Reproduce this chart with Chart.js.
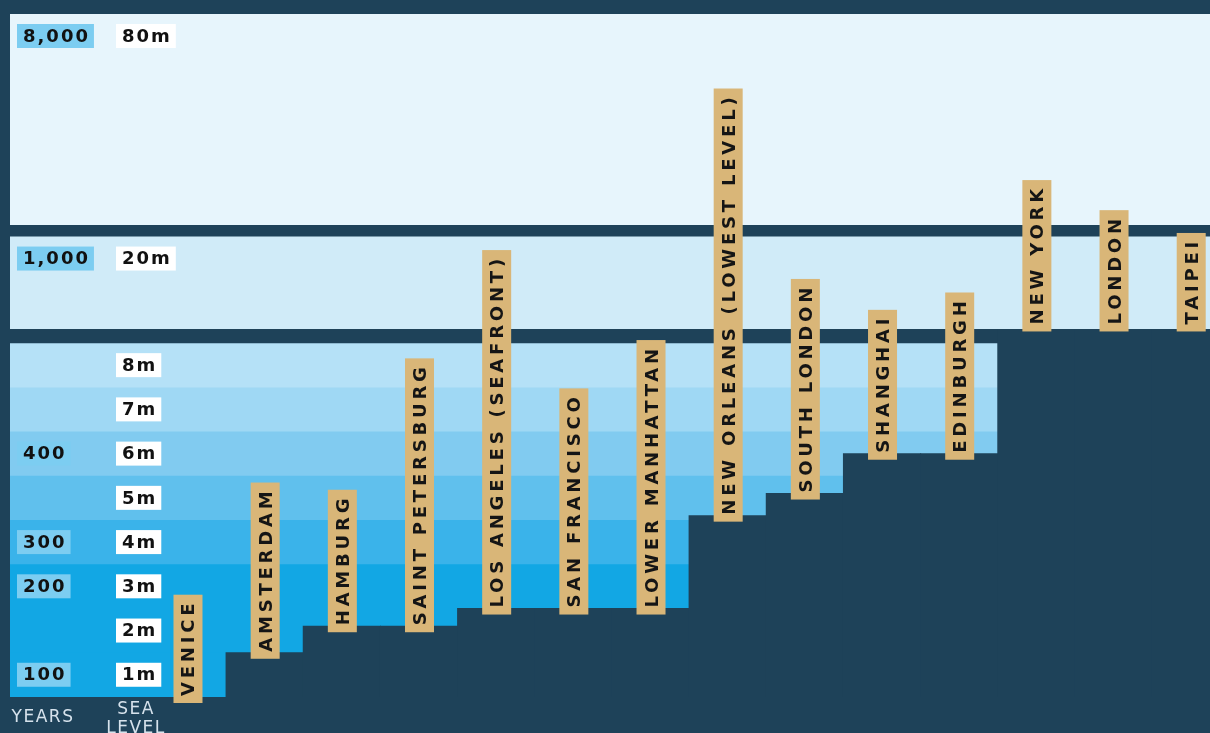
<!DOCTYPE html>
<html lang="en">
<head>
  <meta charset="UTF-8">
  <title>Sea level rise: when cities go under</title>
  <script src="https://cdn.jsdelivr.net/npm/chart.js"></script>
  <style>
    html, body {
      margin: 0;
      padding: 0;
      background: #1e4259;
      overflow: hidden;
    }
    #wrap {
      width: 1210px;
      height: 733px;
      position: relative;
    }
  </style>
</head>
<body>
  <div id="wrap"><canvas id="seaChart"></canvas></div>

  <script>
    // cities, left to right, and the sea level (m) at which each one goes under
    const cities = ['VENICE', 'AMSTERDAM', 'HAMBURG', 'SAINT PETERSBURG', 'LOS ANGELES (SEAFRONT)',
      'SAN FRANCISCO', 'LOWER MANHATTAN', 'NEW ORLEANS (LOWEST LEVEL)', 'SOUTH LONDON',
      'SHANGHAI', 'EDINBURGH', 'NEW YORK', 'LONDON', 'TAIPEI'];
    const floodLevel = [0, 1, 1.6, 1.6, 2, 2, 2, 4.1, 4.6, 5.5, 5.5, 8.4, 8.4, 8.4];

    // sea level bands (top of each band, m) with their labels
    const bandTo = [1, 2, 3, 4, 5, 6, 7, 8, 20, 80];
    const seaLabels = ['1m', '2m', '3m', '4m', '5m', '6m', '7m', '8m', '20m', '80m'];
    const yearLabels = ['100', '', '200', '300', '', '400', '', '', '1,000', '8,000'];

    const NAVY = '#1e4259';
    const TAN = '#d9b678';
    const YEAR_BOX = '#7ccdf1';
    const bandColors = ['#12a7e4', '#12a7e4', '#12a7e4', '#3ab3ea', '#60c0ed', '#81cbf0',
      '#9fd8f4', '#b5e1f7', '#d0ebf8', '#e7f5fc'];

    const X_MIN = -2.3;
    const X_MAX = 13.25;

    // the y axis is broken in three stacked pieces
    function axisFor(k) {
      if (bandTo[k] <= 8) return 'yLow';
      if (bandTo[k] <= 20) return 'yMid';
      return 'yTop';
    }

    // each band fills down to the bottom of its piece; lower bands are drawn over higher ones
    const bandSets = bandTo.map((top, k) => ({
      type: 'line',
      label: seaLabels[k],
      data: [{ x: X_MIN, y: top }, { x: X_MAX, y: top }],
      yAxisID: axisFor(k),
      fill: 'start',
      backgroundColor: bandColors[k],
      borderColor: 'rgba(0,0,0,0)',
      borderWidth: 0,
      pointRadius: 0,
      order: 2 + k
    }));

    const landSet = {
      type: 'bar',
      label: 'Flooded at',
      data: cities.map((c, i) => ({ x: i, y: floodLevel[i] })),
      yAxisID: 'yLow',
      backgroundColor: NAVY,
      barPercentage: 1,
      categoryPercentage: 1,
      borderWidth: 0,
      inflateAmount: ctx => (floodLevel[ctx.dataIndex] > 0 ? 0.5 : 0),
      order: 0
    };

    function drawTag(ctx, text, x, cy, fill) {
      const w = ctx.measureText(text).width;
      ctx.fillStyle = fill;
      ctx.fillRect(x, cy - 12, w + 10, 24);
      ctx.fillStyle = '#111';
      ctx.fillText(text, x + 6, cy + 1);
    }

    const sideLabels = {
      id: 'sideLabels',
      afterDatasetsDraw(chart) {
        const { ctx, chartArea } = chart;
        const left = chartArea.left;
        ctx.save();
        ctx.font = 'bold 18px "DejaVu Sans"';
        ctx.letterSpacing = '2px';
        ctx.textAlign = 'left';
        ctx.textBaseline = 'middle';
        bandTo.forEach((top, k) => {
          const cy = chart.scales[axisFor(k)].getPixelForValue(top) + 22;
          drawTag(ctx, seaLabels[k], left + 106, cy, '#ffffff');
          if (yearLabels[k]) drawTag(ctx, yearLabels[k], left + 7, cy, YEAR_BOX);
        });

        ctx.font = '17px "DejaVu Sans"';
        ctx.letterSpacing = '1.5px';
        ctx.textAlign = 'center';
        ctx.fillStyle = '#d6e2ec';
        ctx.fillText('YEARS', left + 33, chartArea.bottom + 21);
        ctx.fillText('SEA', left + 126, chartArea.bottom + 13);
        ctx.fillText('LEVEL', left + 126, chartArea.bottom + 32);
        ctx.restore();
      }
    };

    const cityTags = {
      id: 'cityTags',
      afterDatasetsDraw(chart) {
        const { ctx, scales: { x, yLow } } = chart;
        ctx.save();
        ctx.font = 'bold 18px "DejaVu Sans"';
        ctx.letterSpacing = '3.8px';
        ctx.textAlign = 'left';
        ctx.textBaseline = 'alphabetic';
        cities.forEach((name, i) => {
          const cx = x.getPixelForValue(i);
          const base = yLow.getPixelForValue(floodLevel[i]) + 6;
          const h = ctx.measureText(name).width + 12;
          ctx.fillStyle = TAN;
          ctx.fillRect(cx - 14, base - h, 29, h);
          ctx.save();
          ctx.translate(cx, base - 7);
          ctx.rotate(-Math.PI / 2);
          ctx.fillStyle = '#151515';
          ctx.fillText(name, 0, 7);
          ctx.restore();
        });
        ctx.restore();
      }
    };

    const hidden = { display: false, grid: { display: false } };

    new Chart(document.getElementById('seaChart'), {
      type: 'bar',
      data: { datasets: [landSet, ...bandSets] },
      options: {
        responsive: true,
        maintainAspectRatio: false,
        animation: false,
        layout: { padding: { left: 10, right: 0, top: 14, bottom: 36 } },
        plugins: {
          legend: { display: false },
          tooltip: { enabled: false }
        },
        scales: {
          x: { ...hidden, type: 'linear', min: X_MIN, max: X_MAX, offset: false },
          yTop: { ...hidden, type: 'linear', position: 'left', stack: 'sea', stackWeight: 211, weight: 3, min: 20, max: 80 },
          yMid: { ...hidden, type: 'linear', position: 'left', stack: 'sea', stackWeight: 104, weight: 2, min: 8, max: 21.5 },
          yLow: { ...hidden, type: 'linear', position: 'left', stack: 'sea', stackWeight: 368, weight: 1, min: 0, max: 8.32 }
        }
      },
      plugins: [sideLabels, cityTags]
    });
  </script>
</body>
</html>
